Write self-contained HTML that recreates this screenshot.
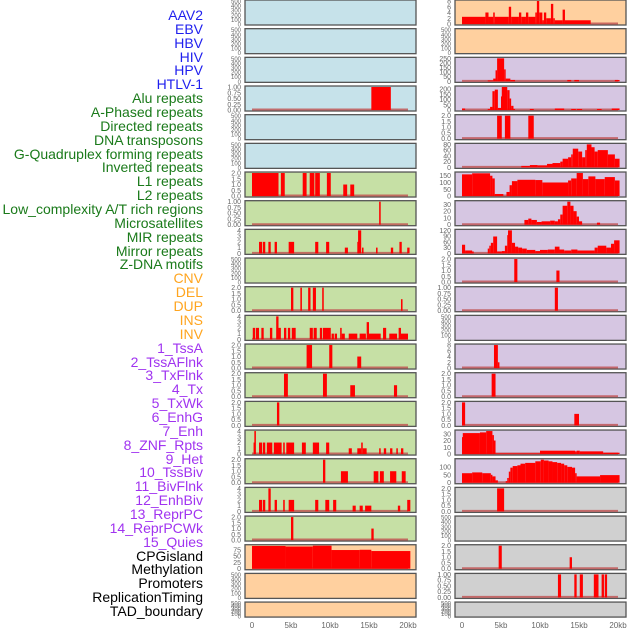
<!DOCTYPE html>
<html><head><meta charset="utf-8">
<style>
html,body{margin:0;padding:0;background:#fff;}
#wrap{position:relative;width:630px;height:630px;overflow:hidden;}
.lab{position:absolute;right:427px;font:14px "Liberation Sans",sans-serif;white-space:nowrap;line-height:14px;}
</style></head>
<body>
<div id="wrap">
<div id="labels"></div>
<svg id="svg" width="630" height="630"></svg>
</div>
<script>
const trackLabels = ["AAV2","EBV","HBV","HIV","HPV","HTLV-1","Alu repeats","A-Phased repeats","Directed repeats","DNA transposons","G-Quadruplex forming repeats","Inverted repeats","L1 repeats","L2 repeats","Low_complexity A/T rich regions","Microsatellites","MIR repeats","Mirror repeats","Z-DNA motifs","CNV","DEL","DUP","INS","INV","1_TssA","2_TssAFlnk","3_TxFlnk","4_Tx","5_TxWk","6_EnhG","7_Enh","8_ZNF_Rpts","9_Het","10_TssBiv","11_BivFlnk","12_EnhBiv","13_ReprPC","14_ReprPCWk","15_Quies","CPGisland","Methylation","Promoters","ReplicationTiming","TAD_boundary"];
const xTickLabels = ["0","5kb","10kb","15kb","20kb"];
const xTickValues = [0,5,10,15,20];

const ticksEmpty = ["0","100","200","300","400","500"];
const ticks1 = ["0.00","0.25","0.50","0.75","1.00"];
const ticks2 = ["0.0","0.5","1.0","1.5","2.0"];
const ticks4 = ["0","1","2","3","4"];
const ticks8 = ["0","2","4","6","8"];

// bars: [startKb, endKb, value]
const L_Alu = [[15.3,17.8,1]];
const L_L1 = [[0,3.4,2],[3.7,4.2,2],[6.5,7.0,2],[7.4,8.0,2],[8.1,8.7,2],[9.6,10.1,2],[11.7,12.2,1],[12.6,13.1,1]];
const L_Low = [[16.3,16.5,1]];
const L_MIR = [[0.9,1.3,2],[1.4,1.7,2],[2.1,2.4,2],[2.9,3.2,2],[4.7,5.4,2],[8.1,8.5,2],[9.5,9.9,2],[11.9,12.3,1],[13.5,13.6,2],[13.6,14.0,4],[14.1,14.3,1],[15.9,16.1,1],[17.8,18.1,1],[18.9,19.2,2],[19.9,20.2,1]];
const L_DEL = [[5.0,5.3,2],[6.2,6.4,2],[7.2,7.5,2],[7.8,8.2,2],[9.0,9.2,2],[19.1,19.3,1]];
const L_INS = [[0.1,0.4,2],[0.5,0.9,2],[1.2,1.5,2],[2.3,2.6,2],[3.1,3.4,4],[3.4,3.7,2],[4.1,4.4,2],[4.6,4.9,2],[5.1,5.6,2],[7.4,7.8,2],[7.9,8.3,2],[8.7,9.0,2],[9.1,10.1,2],[10.2,10.5,1],[10.6,10.9,1],[11.3,11.5,2],[11.5,11.9,1],[12.4,13.5,1],[13.8,14.6,1],[14.7,15.0,3],[15.0,16.5,1],[16.8,17.2,2],[17.6,18.6,1],[18.8,19.1,2],[19.1,20.0,1]];
const L_TssA = [[7.0,7.7,2],[9.9,10.3,2],[13.5,14.0,1]];
const L_TxFlnk = [[4.1,4.6,2],[9.1,9.6,2],[12.6,13.2,1],[18.2,18.6,1]];
const L_TxWk = [[3.2,3.5,2]];
const L_Enh = [[0.2,0.3,2],[0.3,0.5,4],[0.9,1.3,2],[1.4,1.7,2],[1.9,2.6,2],[2.8,3.8,2],[4.0,4.2,2],[4.4,5.4,2],[6.4,6.9,2],[7.8,8.6,2],[9.5,9.9,2],[12.4,12.8,1],[13.5,14.0,1],[14.0,14.2,2],[14.2,14.7,1],[16.3,16.5,1],[16.9,17.2,1],[17.7,18.0,1],[18.5,18.7,1],[19.1,19.4,1]];
const L_Het = [[9.1,9.4,2],[11.4,12.3,1],[15.6,16.2,1],[16.4,16.9,1],[17.7,18.5,1],[19.2,19.7,1]];
const L_BivFlnk = [[0.9,1.3,2],[1.4,1.7,2],[2.1,2.4,4],[2.9,3.2,2],[4.0,4.2,2],[4.7,5.4,2],[8.1,8.5,2],[9.4,9.9,2],[10.4,10.8,2],[12.9,13.3,1],[13.8,14.2,1],[14.5,15.3,1],[18.7,19.0,1],[19.9,20.3,2]];
const L_ReprPC = [[5.0,5.3,2],[15.3,15.6,1]];
const L_Quies = [[0,4.3,90],[4.3,7.8,88],[7.8,10.2,91],[10.2,13.8,74],[13.8,15.3,75],[15.3,20.3,70]];

const R_EBV = [[0,3.0,2.5],[3.0,3.4,4],[3.4,4.0,2.5],[4.0,4.2,4],[4.2,6.0,2.5],[6.0,6.3,6],[6.3,7.3,2.5],[7.3,7.6,4],[7.6,8.2,2.5],[8.2,8.5,4],[8.5,9.4,2.5],[9.4,9.6,4],[9.6,9.9,8],[9.9,10.3,4],[10.3,10.5,1.3],[10.5,10.8,4],[10.8,11.4,2],[11.4,11.7,7],[11.7,11.9,2],[11.9,12.9,1.3],[12.9,13.2,5],[13.2,16.5,1.3]];
const R_HTLV = [[3.3,4.0,10],[4.0,4.3,30],[4.3,4.5,120],[4.5,5.4,250],[5.4,5.6,130],[5.6,6.2,30],[6.2,6.8,15],[13.5,14.0,15],[14.4,15.0,15],[19.6,20.2,15]];
const R_APh = [[0,0.4,15],[3.3,3.6,10],[3.6,3.9,30],[3.9,4.2,180],[4.2,4.6,195],[4.6,5.0,20],[5.0,5.1,130],[5.1,5.8,220],[5.8,6.1,190],[6.1,6.3,110],[6.3,6.6,40],[6.6,6.8,10],[8.7,9.2,10],[11.9,13.1,15],[14.0,14.6,10],[14.7,15.4,10],[17.3,17.9,10],[19.2,20.2,15]];
const R_DNA = [[4.5,5.1,2],[5.5,6.2,2],[8.5,9.2,2]];
const R_Inv = [[7.6,8.7,5],[8.7,9.7,8],[9.7,10.9,7],[10.9,11.6,12],[11.6,12.6,15],[12.6,12.9,20],[12.9,13.6,30],[13.6,14.0,35],[14.0,14.2,45],[14.2,14.9,65],[14.9,15.4,55],[15.4,15.8,35],[15.8,16.0,60],[16.0,16.6,80],[16.6,17.0,70],[17.0,17.4,55],[17.4,18.7,60],[18.7,19.6,45],[19.6,20.2,30]];
const R_L2 = [[0,1.3,160],[1.3,3.6,168],[3.6,3.9,150],[3.9,4.2,130],[4.2,5.3,15],[5.7,6.1,30],[6.1,6.4,80],[6.4,7.1,110],[7.1,9.4,120],[9.4,10.3,118],[10.3,13.6,100],[13.6,14.0,115],[14.0,14.7,130],[14.7,15.5,170],[15.5,16.2,125],[16.2,17.1,145],[17.1,18.3,125],[18.3,19.6,140],[19.6,20.2,115]];
const R_Micro = [[8.0,8.5,7],[8.5,8.9,9],[8.9,9.6,7],[9.6,10.2,4],[10.2,11.3,5],[11.3,11.9,6],[11.9,12.3,5],[12.3,12.6,8],[12.6,12.9,15],[12.9,13.5,28],[13.5,13.9,34],[13.9,14.3,28],[14.3,14.7,20],[14.7,15.0,12],[15.0,15.4,5],[17.3,17.7,3]];
const R_Mirror = [[0,0.4,45],[0.4,1.3,15],[1.3,1.5,10],[3.3,3.5,25],[3.5,3.7,40],[3.7,4.0,55],[4.0,4.5,88],[4.5,5.1,10],[5.1,5.5,12],[5.5,5.8,40],[5.8,5.9,95],[5.9,6.4,120],[6.4,6.8,55],[6.8,7.2,35],[7.2,7.7,30],[7.7,8.3,25],[8.3,9.4,18],[9.4,10.0,12],[10.0,11.0,18],[11.0,11.9,20],[11.9,12.5,35],[12.5,13.1,20],[13.1,14.0,15],[14.0,14.8,20],[14.8,17.0,15],[17.0,17.4,30],[17.4,18.5,40],[18.5,19.1,30],[19.1,19.5,50],[19.5,20.2,68]];
const R_CNV = [[6.7,7.1,2],[12.1,12.5,1]];
const R_DUP = [[11.9,12.3,1]];
const R_TssAFlnk = [[4.1,4.6,8],[4.6,4.8,2]];
const R_Tx = [[3.8,4.3,2]];
const R_EnhG = [[0,0.4,2],[14.4,15.0,1]];
const R_ZNF = [[0,0.1,25],[0.1,2.3,31],[2.3,3.1,32],[3.1,3.9,34],[3.9,4.0,28],[4.0,4.3,20],[4.3,10.0,1],[10.0,14.5,5],[14.5,14.7,4],[14.7,15.1,5],[15.1,18.1,4],[18.1,20.2,2]];
const R_TssBiv = [[0,1.3,60],[1.3,2.6,65],[2.6,3.7,60],[3.7,3.9,50],[3.9,4.3,40],[4.3,4.6,15],[5.6,5.8,10],[5.8,6.0,30],[6.0,6.2,70],[6.2,6.5,95],[6.5,7.1,105],[7.1,7.5,110],[7.5,8.1,120],[8.1,9.4,125],[9.4,10.1,135],[10.1,10.5,145],[10.5,11.1,140],[11.1,11.6,135],[11.6,12.2,130],[12.2,12.7,125],[12.7,13.1,120],[13.1,13.5,110],[13.5,14.1,100],[14.1,14.5,95],[14.5,14.7,60],[14.7,17.7,40],[17.7,20.2,48]];
const R_EnhBiv = [[4.5,5.4,2]];
const R_CPG = [[4.7,5.1,2],[13.8,14.1,1]];
const R_Prom = [[12.3,12.7,1],[14.4,14.7,1],[15.1,15.5,1],[16.9,17.5,1],[17.9,18.2,1],[18.3,18.6,1]];

const BL="#c6e2ea",GR="#c6e0a5",OR="#ffd09f",PU="#d6c6e2",GY="#d0d0d0";
const leftPanels = [
 [BL,null,0,ticksEmpty],[BL,null,0,ticksEmpty],[BL,null,0,ticksEmpty],[BL,L_Alu,1,ticks1],[BL,null,0,ticksEmpty],[BL,null,0,ticksEmpty],
 [GR,L_L1,2,ticks2],[GR,L_Low,1,ticks1],[GR,L_MIR,4,ticks4],[GR,null,0,ticksEmpty],[GR,L_DEL,2,ticks2],[GR,L_INS,4,ticks4],
 [GR,L_TssA,2,ticks2],[GR,L_TxFlnk,2,ticks2],[GR,L_TxWk,2,ticks2],[GR,L_Enh,4,ticks4],[GR,L_Het,2,ticks2],[GR,L_BivFlnk,4,ticks4],[GR,L_ReprPC,2,ticks2],
 [OR,L_Quies,91,["0","25","50","75"]],[OR,null,0,ticksEmpty],[OR,null,0,ticksEmpty]];
const rightPanels = [
 [OR,R_EBV,8,ticks8],[OR,null,0,ticksEmpty],[PU,R_HTLV,250,["0","50","100","150","200","250"]],[PU,R_APh,220,["0","50","100","150","200"]],
 [PU,R_DNA,2,ticks2],[PU,R_Inv,80,["0","20","40","60","80"]],[PU,R_L2,170,["0","50","100","150"]],[PU,R_Micro,34,["0","10","20","30"]],
 [PU,R_Mirror,120,["0","30","60","90","120"]],[PU,R_CNV,2,ticks2],[PU,R_DUP,1,ticks1],[PU,null,0,ticksEmpty],
 [PU,R_TssAFlnk,8,ticks8],[PU,R_Tx,2,ticks2],[PU,R_EnhG,2,ticks2],[PU,R_ZNF,34,["0","10","20","30"]],[PU,R_TssBiv,145,["0","50","100"]],
 [GY,R_EnhBiv,2,ticks2],[GY,null,0,ticksEmpty],[GY,R_CPG,2,ticks2],[GY,R_Prom,1,ticks1],[GY,null,0,ticksEmpty]];

const labelColor = i => i<6?"#1f1fee":i<19?"#1a7a1a":i<24?"#ffa51f":i<39?"#a033f0":"#000";
const labDiv=document.getElementById('labels');
trackLabels.forEach((t,i)=>{
  const d=document.createElement('div');
  d.className='lab';
  
  
  d.style.top=(8+i*13.86)+'px';
  d.style.color=labelColor(i);
  d.textContent=t;
  labDiv.appendChild(d);
});

const NS="http://www.w3.org/2000/svg";
const svg=document.getElementById('svg');
function mk(tag,attrs,parent){const e=document.createElementNS(NS,tag);for(const k in attrs)e.setAttribute(k,attrs[k]);(parent||svg).appendChild(e);return e;}
const ROW=28.67;
function xScale(x0,kb){return x0+7+kb*7.8;}
function drawPanel(x0,row,spec,side){
  const [bg,bars,ymax,ticks]=spec;
  const top=row*ROW, w=171;
  const PH = row===21 ? 15 : 25;
  const g=mk('g',{});
  
  
  mk('rect',{x:x0,y:top,width:w,height:PH,fill:bg,stroke:"#555",'stroke-width':1.3},g);
  const y0=top+PH-1, y1=top+1;
  const tmax = bars? ymax : 500;
  ticks.forEach(t=>{
    const v=parseFloat(t);
    const y=y0-(v/tmax)*(y0-y1);
    const tx=mk('text',{x:x0-4,y:y+2.5,'text-anchor':'end','font-size':bars?7:6,'font-family':'Liberation Sans, sans-serif',fill:'#666'},g);
    
    
    tx.textContent=t;
  });
  if(!bars) return;
  mk('line',{x1:xScale(x0,0),x2:xScale(x0,20),y1:y0-0.5,y2:y0-0.5,stroke:'#c05050','stroke-width':2,opacity:0.8},g);
  bars.forEach(b=>{
    const xa=xScale(x0,b[0]), xb=xScale(x0,b[1]);
    const h=(b[2]/ymax)*(y0-y1);
    const r=mk('rect',{x:xa,y:y0-h,width:Math.max(xb-xa,1.5),height:h,fill:'#ff0000'},g);
    
    
  });
}
leftPanels.forEach((s,i)=>drawPanel(245,i,s,'left'));
rightPanels.forEach((s,i)=>drawPanel(455,i,s,'right'));
[245,455].forEach(x0=>{
  xTickValues.forEach((v,i)=>{
    const t=mk('text',{x:xScale(x0,v),y:628,'text-anchor':'middle','font-size':8,'font-family':'Liberation Sans, sans-serif',fill:'#666'});
    
    
    t.textContent=xTickLabels[i];
  });
});
</script>
</body></html>
